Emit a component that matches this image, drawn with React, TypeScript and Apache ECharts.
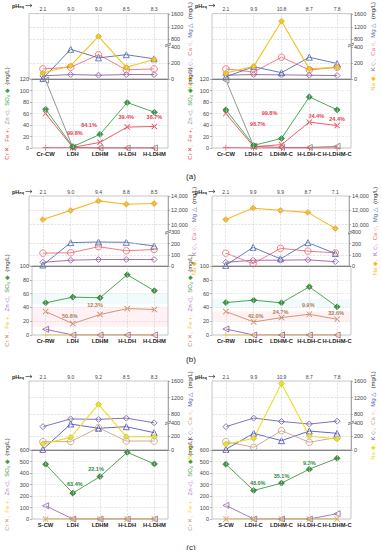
import React, { useEffect, useRef } from 'react';
import * as echarts from 'echarts';

// ---------------- categories & pH ----------------
const catsA1 = ['Cr-CW', 'LDH', 'LDHM', 'H-LDH', 'H-LDHM'];
const catsA2 = ['Cr-CW', 'LDH-C', 'LDHM-C', 'H-LDH-C', 'H-LDHM-C'];
const catsB1 = ['Cr-RW', 'LDH', 'LDHM', 'H-LDH', 'H-LDHM'];
const catsB2 = ['Cr-RW', 'LDH-C', 'LDHM-C', 'H-LDH-C', 'H-LDHM-C'];
const catsC1 = ['S-CW', 'LDH', 'LDHM', 'H-LDH', 'H-LDHM'];
const catsC2 = ['S-CW', 'LDH-C', 'LDHM-C', 'H-LDH-C', 'H-LDHM-C'];

const phA1 = ['2.1', '9.0', '9.0', '8.5', '8.3'];
const phA2 = ['2.1', '9.9', '10.8', '8.7', '7.8'];
const phB1 = ['2.1', '9.0', '9.4', '8.8', '8.5'];
const phB2 = ['2.1', '9.9', '9.9', '8.7', '7.1'];
const phC1 = ['2.1', '9.0', '9.2', '8.5', '8.3'];
const phC2 = ['2.1', '9.9', '10.9', '8.7', '7.8'];

// ---------------- (a) ----------------
const naA1 = [76, 168, 900, 148, 248];
const kA1 = [40, 56, 48, 56, 56];
const caA1 = [128, 148, 308, 116, 128];
const mgA1 = [5, 376, 268, 308, 256];
const so4A1 = [67.5, 2.3, 23.7, 79, 62.3];
const crA1 = [60, 1, 9.8, 36.4, 37.5];
const feA1 = [0.5, 0.3, 0, 0, 0];
const znA1 = [118, 1, 0, 0, 0];
const pctA1 = ['', '99.8%', '84.1%', '39.4%', '38.7%'];

const naA2 = [76, 160, 1380, 128, 148];
const kA2 = [48, 56, 52, 48, 44];
const caA2 = [128, 88, 276, 116, 148];
const mgA2 = [28, 156, 80, 276, 196];
const so4A2 = [66.4, 4.6, 16.7, 88.9, 66.4];
const crA2 = [60, 2.3, 5.8, 45, 39];
const feA2 = [0.5, 0, 0, 0, 0];
const znA2 = [118, 3, 1, 1, 3];
const pctA2 = ['', '98.7%', '99.8%', '24.4%', '24.4%'];

// ---------------- (b) ----------------
const naB1 = [10690, 11980, 13310, 12850, 12940];
const kB1 = [33, 52, 58, 58, 58];
const caB1 = [115, 118, 173, 136, 148];
const mgB1 = [9, 209, 215, 212, 179];
const so4B1 = [46.6, 54.9, 53.9, 87.4, 64];
const crB1 = [34, 16.5, 29.6, 38.3, 36.9];
const feB1 = [0, 0, 0, 0, 0];
const znB1 = [8.3, 0, 0, 0, 0];
const pctB1 = ['', '50.8%', '12.3%', '', ''];

const naB2 = [10690, 12300, 11980, 11700, 9450];
const kB2 = [33, 52, 52, 55, 39];
const caB2 = [115, 21, 158, 133, 118];
const mgB2 = [6, 167, 64, 209, 112];
const so4B2 = [47, 50.5, 46.6, 69.9, 40.8];
const crB2 = [34, 18.9, 25.2, 30.1, 22.8];
const feB2 = [0, 0, 0, 0, 0];
const znB2 = [8.7, 0, 0, 0, 0];
const pctB2 = ['', '42.0%', '24.7%', '9.9%', '32.6%'];

// ---------------- (c) ----------------
const naC1 = [90, 186, 1040, 196, 196];
const kC1 = [343, 690, 680, 710, 420];
const caC1 = [123, 123, 328, 132, 132];
const mgC1 = [10, 382, 319, 343, 255];
const so4C1 = [476, 225, 369, 580, 479];
const crC1 = [0, 0, 0, 0, 0];
const feC1 = [0, 0, 0, 0, 0];
const znC1 = [115, 0, 0, 0, 0];
const pctC1 = ['', '63.4%', '22.1%', '', ''];

const naC2 = [83, 172, 1538, 206, 162];
const kC2 = [343, 711, 630, 382, 637];
const caC2 = [123, 39, 284, 113, 186];
const mgC2 = [10, 245, 137, 279, 245];
const so4C2 = [476, 248, 312, 433, 528];
const crC2 = [0, 0, 0, 0, 0];
const feC2 = [0, 0, 0, 0, 0];
const znC2 = [118, 0, 0, 0, 46];
const pctC2 = ['', '48.0%', '35.1%', '9.3%', ''];

// axis tick labels
const lowTicksAC = [0, 200, 400];
const lowTicksB = [0, 100, 200, 300];
const upTicksAC = [800, 1200, 1600];
const upTicksB = [10000, 12000, 14000];
const gridTopAC = [200, 800, 1200];
const gridTopB = [100, 200, 10000, 12000];
const bandsB1 = [[12, 40, 'pink'], [45, 60, 'cyan']];
const bandsB2 = [[20, 34, 'pink'], [40, 52, 'cyan']];

// ---------------- styles ----------------
const FONT = "'Liberation Sans', Arial, sans-serif";
const W = 139;

const colA = { na: '#f5c21b', naB: '#c99a00', k: '#8a63a0', ca: '#f06a78', mg: '#4f6db3', so4: '#34a24b', so4B: '#1d5e28', cr: '#ea4a5a', fe: '#ea4a5a', zn: '#8a8a8a' };
const colB = { na: '#f8b82a', naB: '#d48f00', k: '#9a5fae', ca: '#f26b73', mg: '#4d6db5', so4: '#3f9a3f', so4B: '#1d5e28', cr: '#c98b6b', fe: '#f0c23c', zn: '#9a5fae' };
const colC = { na: '#e9e020', naB: '#b8b000', k: '#7563a8', ca: '#c9a283', mg: '#5456c0', so4: '#3f9a3f', so4B: '#1d5e28', cr: '#c9a283', fe: '#efd040', zn: '#9a6fb2' };

type Brk = { L: number; U0: number; Umax: number; sL: number; sU: number };
const brkA: Brk = { L: 400, U0: 600, Umax: 1621, sL: 0.0833, sU: 0.03325 };
const brkB: Brk = { L: 300, U0: 9000, Umax: 14000, sL: 0.1117, sU: 0.007125 };
const brkC: Brk = { L: 400, U0: 600, Umax: 1600, sL: 0.068, sU: 0.0417 };

// broken-axis transform: real value -> lower-axis units
function mapBreak(v: number, b: Brk, h: number) {
  const pL = b.L * b.sL;
  const pU = h - (b.Umax - b.U0) * b.sU;
  let px: number;
  if (v <= b.L) px = v * b.sL;
  else if (v >= b.U0) px = pU + (v - b.U0) * b.sU;
  else px = pL + ((v - b.L) / (b.U0 - b.L)) * (pU - pL);
  return px / b.sL;
}

const panels = [
  { left: 29, top: 10, hTop: 69, hBot: 69, cats: catsA1, ph: phA1, na: naA1, k: kA1, ca: caA1, mg: mgA1, so4: so4A1, cr: crA1, fe: feA1, zn: znA1, pct: pctA1, pctOn: 'cr', pctColor: '#e8404f', pctOff: [null, [2, -14], [-11, -17], [-1, -10], [0, -9]], brk: brkA, lowTicks: lowTicksAC, upTicks: upTicksAC, gridTop: gridTopAC, bMax: 120, bInt: 20, col: colA, lGap: 19, rGap: 13, bands: [] as any[] },
  { left: 212, top: 10, hTop: 69, hBot: 69, cats: catsA2, ph: phA2, na: naA2, k: kA2, ca: caA2, mg: mgA2, so4: so4A2, cr: crA2, fe: feA2, zn: znA2, pct: pctA2, pctOn: 'cr', pctColor: '#e8404f', pctOff: [null, [4, -23], [-12, -32], [7, -6], [0, -7]], brk: brkA, lowTicks: lowTicksAC, upTicks: upTicksAC, gridTop: gridTopAC, bMax: 120, bInt: 20, col: colA, lGap: 15, rGap: 13, bands: [] as any[] },
  { left: 29, top: 196, hTop: 70, hBot: 69, cats: catsB1, ph: phB1, na: naB1, k: kB1, ca: caB1, mg: mgB1, so4: so4B1, cr: crB1, fe: feB1, zn: znB1, pct: pctB1, pctOn: 'cr', pctColor: '#b07a50', pctOff: [null, [-3, -8], [-5, -10], null, null], brk: brkB, lowTicks: lowTicksB, upTicks: upTicksB, gridTop: gridTopB, bMax: 100, bInt: 20, col: colB, lGap: 19, rGap: 20, bands: bandsB1 },
  { left: 212, top: 196, hTop: 70, hBot: 69, cats: catsB2, ph: phB2, na: naB2, k: kB2, ca: caB2, mg: mgB2, so4: so4B2, cr: crB2, fe: feB2, zn: znB2, pct: pctB2, pctOn: 'cr', pctColor: '#b07a50', pctOff: [null, [2, -6], [-1, -6], [-1, -9], [-1, -6]], brk: brkB, lowTicks: lowTicksB, upTicks: upTicksB, gridTop: gridTopB, bMax: 100, bInt: 20, col: colB, lGap: 15, rGap: 20, bands: bandsB2 },
  { left: 29, top: 381, hTop: 69, hBot: 69, cats: catsC1, ph: phC1, na: naC1, k: kC1, ca: caC1, mg: mgC1, so4: so4C1, cr: crC1, fe: feC1, zn: znC1, pct: pctC1, pctOn: 'so4', pctColor: '#2e8a3a', pctOff: [null, [2, -9], [-4, -8], null, null], brk: brkC, lowTicks: lowTicksAC, upTicks: upTicksAC, gridTop: gridTopAC, bMax: 600, bInt: 100, col: colC, lGap: 19, rGap: 13, bands: [] as any[] },
  { left: 212, top: 381, hTop: 69, hBot: 69, cats: catsC2, ph: phC2, na: naC2, k: kC2, ca: caC2, mg: mgC2, so4: so4C2, cr: crC2, fe: feC2, zn: znC2, pct: pctC2, pctOn: 'so4', pctColor: '#2e8a3a', pctOff: [null, [4, -7], [0, -7], [0, -6], null], brk: brkC, lowTicks: lowTicksAC, upTicks: upTicksAC, gridTop: gridTopAC, bMax: 600, bInt: 100, col: colC, lGap: 15, rGap: 13, bands: [] as any[] },
];

const X_PATH = 'path://M1,0 L5,4 L9,0 L10,1 L6,5 L10,9 L9,10 L5,6 L1,10 L0,9 L4,5 L0,1 Z';
const PLUS_PATH = 'path://M4.4,0 H5.6 V4.4 H10 V5.6 H5.6 V10 H4.4 V5.6 H0 V4.4 H4.4 Z';

function buildOption() {
  const grid: any[] = [];
  const xAxis: any[] = [];
  const yAxis: any[] = [];
  const series: any[] = [];
  const graphic: any[] = [];

  panels.forEach((p) => {
    const b = p.brk;
    const h = p.hTop;
    const c = p.col;
    const tr = (v: number) => mapBreak(v, b, h);

    const gT = grid.length;
    grid.push({ left: p.left, top: p.top, width: W, height: h, show: true, borderColor: '#b8b8b8', borderWidth: 0.8 });
    const gB = grid.length;
    grid.push({ left: p.left, top: p.top + h, width: W, height: p.hBot, show: true, borderColor: '#b8b8b8', borderWidth: 0.8 });

    const xT = xAxis.length;
    xAxis.push({
      gridIndex: gT, type: 'category', data: p.cats, position: 'top', boundaryGap: true,
      axisLine: { show: false }, axisTick: { show: false },
      axisLabel: { fontSize: 5, color: '#444', margin: 2, fontFamily: FONT, interval: 0, formatter: (_v: string, j: number) => p.ph[j] },
    });
    const xB = xAxis.length;
    xAxis.push({
      gridIndex: gB, type: 'category', data: p.cats, position: 'bottom', boundaryGap: true,
      axisLine: { show: false }, axisTick: { show: false },
      axisLabel: { fontSize: 5.8, fontWeight: 'bold', color: '#222', margin: 3, interval: 0, fontFamily: FONT },
    });

    // pH_eq → label
    graphic.push({
      type: 'text', x: p.left - 5, y: p.top - 4.5, z: 50,
      style: {
        text: '{p|pH}{s|eq}', align: 'right', verticalAlign: 'middle',
        rich: {
          p: { fontSize: 5.5, fontWeight: 'bold', fill: '#222', fontFamily: FONT },
          s: { fontSize: 4, fontWeight: 'bold', fill: '#222', fontFamily: FONT, padding: [2, 0, 0, 0] },
        },
      },
    });
    graphic.push({
      type: 'line', z: 50,
      shape: { x1: p.left - 3.5, y1: p.top - 4.5, x2: p.left + 3, y2: p.top - 4.5 },
      style: { stroke: '#222', lineWidth: 0.6 },
    });
    graphic.push({
      type: 'polyline', z: 50,
      shape: { points: [[p.left + 1, p.top - 6], [p.left + 3, p.top - 4.5], [p.left + 1, p.top - 3]] },
      style: { stroke: '#222', lineWidth: 0.6, fill: 'none' },
    });

    const rs = (col: string) => ({ color: col, fontSize: 6, fontFamily: FONT });
    const yLow = yAxis.length;
    yAxis.push({
      gridIndex: gT, type: 'value', min: 0, max: h / b.sL, position: 'right',
      axisLine: { show: true, lineStyle: { color: '#999', width: 0.8 } },
      axisTick: { show: true, length: 2, customValues: p.lowTicks, lineStyle: { color: '#888', width: 0.6 } },
      axisLabel: { customValues: p.lowTicks, fontSize: 5.5, color: '#444', margin: 3, fontFamily: FONT },
      splitLine: { show: false },
      name: '{na|Na ◆,} {k|K ◇,} {ca|Ca ○,} {mg|Mg △} {t|(mg/L)}',
      nameLocation: 'middle', nameRotate: 90, nameGap: p.rGap,
      nameTextStyle: { rich: { na: rs(c.na), k: rs(c.k), ca: rs(c.ca), mg: rs(c.mg), t: rs('#333') } },
    });
    yAxis.push({
      gridIndex: gT, type: 'value', min: b.Umax - h / b.sU, max: b.Umax, position: 'right',
      axisLine: { show: false },
      axisTick: { show: true, length: 2, customValues: p.upTicks, lineStyle: { color: '#888', width: 0.6 } },
      axisLabel: { customValues: p.upTicks, fontSize: 5.5, color: '#444', margin: 3, fontFamily: FONT, formatter: (v: number) => (v >= 10000 ? v.toLocaleString('en-US') : String(v)) },
      splitLine: { show: false },
    });
    const yBot = yAxis.length;
    yAxis.push({
      gridIndex: gB, type: 'value', min: 0, max: p.bMax, interval: p.bInt, position: 'left',
      axisLine: { show: false },
      axisTick: { show: true, length: 2, lineStyle: { color: '#888', width: 0.6 } },
      axisLabel: { fontSize: 5.5, color: '#444', margin: 3, fontFamily: FONT },
      splitLine: { show: true, lineStyle: { color: '#dedede', type: 'dashed', width: 0.6 } },
      name: '{cr|Cr ✕,} {fe|Fe +,} {zn|Zn ◁,} {so|SO₄ ◆} {t|(mg/L)}',
      nameLocation: 'middle', nameRotate: 90, nameGap: p.lGap,
      nameTextStyle: { rich: { cr: rs(c.cr), fe: rs(c.fe), zn: rs(c.zn), so: rs(c.so4), t: rs('#333') } },
    });

    // ---- top section ----
    series.push({
      type: 'line', xAxisIndex: xT, yAxisIndex: yLow, data: p.k.map(tr), symbol: 'none', silent: true,
      lineStyle: { opacity: 0 },
      markLine: {
        silent: true, symbol: 'none', label: { show: false },
        lineStyle: { color: '#d2d2d2', type: 'dashed', width: 0.6 },
        data: [...p.cats.map((cat) => ({ xAxis: cat })), ...p.gridTop.map((v) => ({ yAxis: tr(v) }))],
      },
    });
    const open = (col: string) => ({ color: 'rgba(255,255,255,0)', borderColor: col, borderWidth: 0.9 });
    series.push({ name: 'K', type: 'line', xAxisIndex: xT, yAxisIndex: yLow, data: p.k.map(tr), symbol: 'diamond', symbolSize: 6, lineStyle: { color: c.k, width: 0.9 }, itemStyle: open(c.k) });
    series.push({ name: 'Ca', type: 'line', xAxisIndex: xT, yAxisIndex: yLow, data: p.ca.map(tr), symbol: 'circle', symbolSize: 6.5, lineStyle: { color: c.ca, width: 0.9 }, itemStyle: open(c.ca) });
    series.push({ name: 'Mg', type: 'line', xAxisIndex: xT, yAxisIndex: yLow, data: p.mg.map(tr), symbol: 'triangle', symbolSize: 6, lineStyle: { color: c.mg, width: 0.9 }, itemStyle: open(c.mg) });
    series.push({ name: 'Na', type: 'line', xAxisIndex: xT, yAxisIndex: yLow, data: p.na.map(tr), symbol: 'diamond', symbolSize: 6, lineStyle: { color: c.na, width: 1.1 }, itemStyle: { color: c.na, borderColor: c.naB, borderWidth: 0.5 } });

    // ---- bottom section ----
    series.push({
      type: 'line', xAxisIndex: xB, yAxisIndex: yBot, data: p.fe, symbol: 'none', silent: true,
      lineStyle: { opacity: 0 },
      markLine: {
        silent: true, symbol: 'none', label: { show: false },
        lineStyle: { color: '#d2d2d2', type: 'dashed', width: 0.6 },
        data: [
          ...p.cats.map((cat) => ({ xAxis: cat })),
          { yAxis: p.bMax, lineStyle: { color: '#777', type: 'solid', width: 0.9 } },
        ],
      },
      markArea: {
        silent: true,
        data: p.bands.map((bd: any) => [
          { yAxis: bd[0], itemStyle: { color: bd[2] === 'pink' ? 'rgba(255,120,150,0.10)' : 'rgba(120,220,220,0.10)' } },
          { yAxis: bd[1] },
        ]),
      },
    });
    const withPct = (vals: number[]) =>
      vals.map((v, j) =>
        p.pct[j]
          ? { value: v, label: { show: true, formatter: p.pct[j], position: 'inside', offset: p.pctOff[j], color: p.pctColor, fontSize: 5.5, fontWeight: 'bold', fontFamily: FONT } }
          : v
      );
    series.push({ name: 'Zn', type: 'line', xAxisIndex: xB, yAxisIndex: yBot, data: p.zn, symbol: 'triangle', symbolRotate: 90, symbolSize: 6, lineStyle: { color: c.zn, width: 0.9 }, itemStyle: open(c.zn) });
    series.push({ name: 'Fe', type: 'line', xAxisIndex: xB, yAxisIndex: yBot, data: p.fe, symbol: PLUS_PATH, symbolSize: 6, lineStyle: { color: c.fe, width: 0.9 }, itemStyle: { color: c.fe } });
    series.push({ name: 'Cr', type: 'line', xAxisIndex: xB, yAxisIndex: yBot, data: p.pctOn === 'cr' ? withPct(p.cr) : p.cr, symbol: X_PATH, symbolSize: 6, lineStyle: { color: c.cr, width: 0.9 }, itemStyle: { color: c.cr } });
    series.push({ name: 'SO4', type: 'line', xAxisIndex: xB, yAxisIndex: yBot, data: p.pctOn === 'so4' ? withPct(p.so4) : p.so4, symbol: 'diamond', symbolSize: 6, lineStyle: { color: c.so4, width: 0.9 }, itemStyle: { color: c.so4, borderColor: c.so4B, borderWidth: 0.6 } });

    // axis break mark on the right axis
    const pL = b.L * b.sL;
    const pU = h - (b.Umax - b.U0) * b.sU;
    graphic.push({
      type: 'group', x: p.left + W, y: p.top + h - (pL + pU) / 2, z: 100,
      children: [
        { type: 'rect', shape: { x: -3, y: -1.3, width: 6, height: 2.6 }, style: { fill: '#fff' }, z: 100 },
        { type: 'line', shape: { x1: -3, y1: 0.3, x2: 3, y2: -1.7 }, style: { stroke: '#555', lineWidth: 0.7 }, z: 101 },
        { type: 'line', shape: { x1: -3, y1: 1.9, x2: 3, y2: -0.1 }, style: { stroke: '#555', lineWidth: 0.7 }, z: 101 },
      ],
    });
  });

  const ttl = (t: string, top: number) => ({ text: t, left: 'center', top, textStyle: { fontSize: 8, fontWeight: 'normal', color: '#222', fontFamily: FONT } });

  return {
    animation: false,
    backgroundColor: '#fff',
    title: [ttl('(a)', 167), ttl('(b)', 350), ttl('(c)', 538)],
    grid, xAxis, yAxis, series, graphic,
  };
}

export default function App() {
  const ref = useRef<HTMLDivElement>(null);
  useEffect(() => {
    const chart = echarts.init(ref.current!, null, { renderer: 'svg' });
    chart.setOption(buildOption() as any);
    return () => chart.dispose();
  }, []);
  return <div ref={ref} style={{ position: 'fixed', left: 0, top: 0, width: 382, height: 550, background: '#fff' }} />;
}
